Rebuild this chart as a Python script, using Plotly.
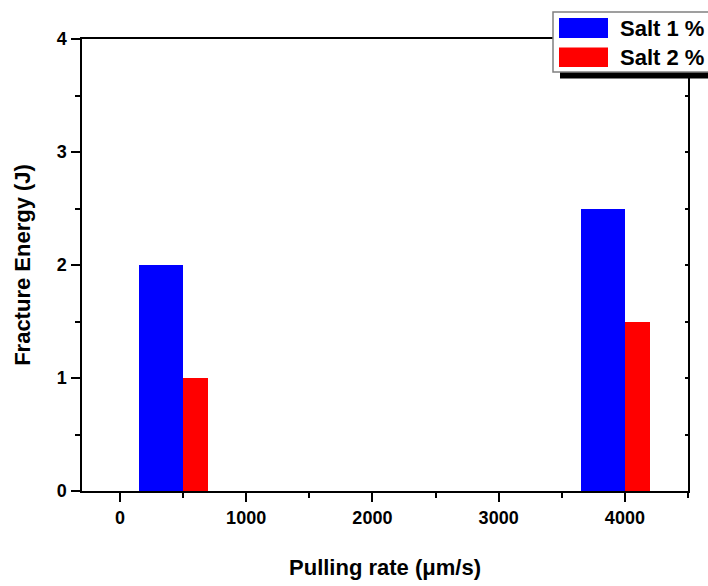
import plotly.graph_objects as go

# ---- data ----
pulling_rate = [500, 4000]
salt1_energy = [2.0, 2.5]
salt2_energy = [1.0, 1.5]
series_names = ["Salt 1 %", "Salt 2 %"]
series_colors = ["#0000FF", "#FF0000"]
x_tick_vals = [0, 1000, 2000, 3000, 4000]
y_tick_vals = [0, 1, 2, 3, 4]

W, H = 708, 586
ML, MR, MT, MB = 82, 20, 39, 95
PW, PH = W - ML - MR, H - MT - MB
FONT = "Arial, Liberation Sans, sans-serif"


def px_x(p):
    """page pixel x -> paper coordinate"""
    return (p - ML) / PW


def px_y(p):
    """page pixel y -> paper coordinate"""
    return (H - MB - p) / PH


fig = go.Figure()
fig.add_trace(go.Bar(x=pulling_rate, y=salt1_energy, name=series_names[0],
                     width=350, offset=-350,
                     marker=dict(color=series_colors[0], line=dict(width=0)),
                     showlegend=False))
fig.add_trace(go.Bar(x=pulling_rate, y=salt2_energy, name=series_names[1],
                     width=200, offset=0,
                     marker=dict(color=series_colors[1], line=dict(width=0)),
                     showlegend=False))

axis_font = dict(family=FONT, size=18, color="black", weight="bold")
title_font = dict(family=FONT, size=22, color="black", weight="bold")

fig.update_layout(
    width=W, height=H,
    margin=dict(l=ML, r=MR, t=MT, b=MB),
    paper_bgcolor="white", plot_bgcolor="white",
    barmode="overlay",
    bargap=0,
    xaxis=dict(
        range=[-300, 4500], tickvals=x_tick_vals,
        ticktext=[str(v) for v in x_tick_vals],
        showline=True, linecolor="black", linewidth=1.5, mirror=True,
        ticks="outside", ticklen=9, tickwidth=1.5, tickcolor="black",
        minor=dict(dtick=500, tick0=0, ticks="outside", ticklen=5,
                   tickwidth=1.5, tickcolor="black", showgrid=False),
        showgrid=False, zeroline=False, tickfont=axis_font,
        title=dict(text="Pulling rate (μm/s)", font=title_font, standoff=32),
        automargin=False, ticklabelstandoff=1,
    ),
    yaxis=dict(
        range=[0, 4], tickvals=y_tick_vals,
        showline=True, linecolor="black", linewidth=1.5,
        ticks="outside", ticklen=9, tickwidth=1.5, tickcolor="black",
        minor=dict(dtick=0.5, tick0=0, ticks="outside", ticklen=5,
                   tickwidth=1.5, tickcolor="black", showgrid=False),
        showgrid=False, zeroline=False, tickfont=axis_font,
        title=dict(text="Fracture Energy (J)", font=title_font, standoff=20),
        automargin=False, ticklabelstandoff=1,
    ),
    yaxis2=dict(
        overlaying="y", side="right", range=[0, 4], dtick=0.5, tick0=0,
        showline=True, linecolor="black", linewidth=1.5,
        ticks="inside", ticklen=3, tickwidth=1.5, tickcolor="black",
        showticklabels=False, showgrid=False, zeroline=False,
    ),
)

# invisible trace so the right axis is drawn
fig.add_trace(go.Scatter(x=[None], y=[None], yaxis="y2", showlegend=False,
                         hoverinfo="skip"))

# ---- custom legend (Origin style) ----
shapes = []
shapes.append(dict(type="rect", xref="paper", yref="paper",
                   x0=px_x(560), x1=px_x(715), y0=px_y(78.5), y1=px_y(72),
                   fillcolor="black", line=dict(width=0), layer="above"))
shapes.append(dict(type="rect", xref="paper", yref="paper",
                   x0=px_x(553), x1=px_x(715), y0=px_y(72), y1=px_y(12),
                   fillcolor="white", line=dict(color="#808080", width=1.5),
                   layer="above"))
swatch_rows = [(18, 38), (47.5, 67)]
annotations = []
for (top, bot), name, col in zip(swatch_rows, series_names, series_colors):
    shapes.append(dict(type="rect", xref="paper", yref="paper",
                       x0=px_x(559), x1=px_x(608), y0=px_y(bot), y1=px_y(top),
                       fillcolor=col, line=dict(width=0), layer="above"))
    annotations.append(dict(xref="paper", yref="paper", x=px_x(618),
                            y=px_y((top + bot) / 2), text=name, showarrow=False,
                            xanchor="left", yanchor="middle",
                            font=dict(family=FONT, size=22, color="black",
                                      weight="bold")))
fig.update_layout(shapes=shapes, annotations=annotations)

fig.write_html("out.html",
               config={"displayModeBar": False},
               post_script="document.body.style.margin='0';"
                           "document.body.style.overflow='hidden';")
